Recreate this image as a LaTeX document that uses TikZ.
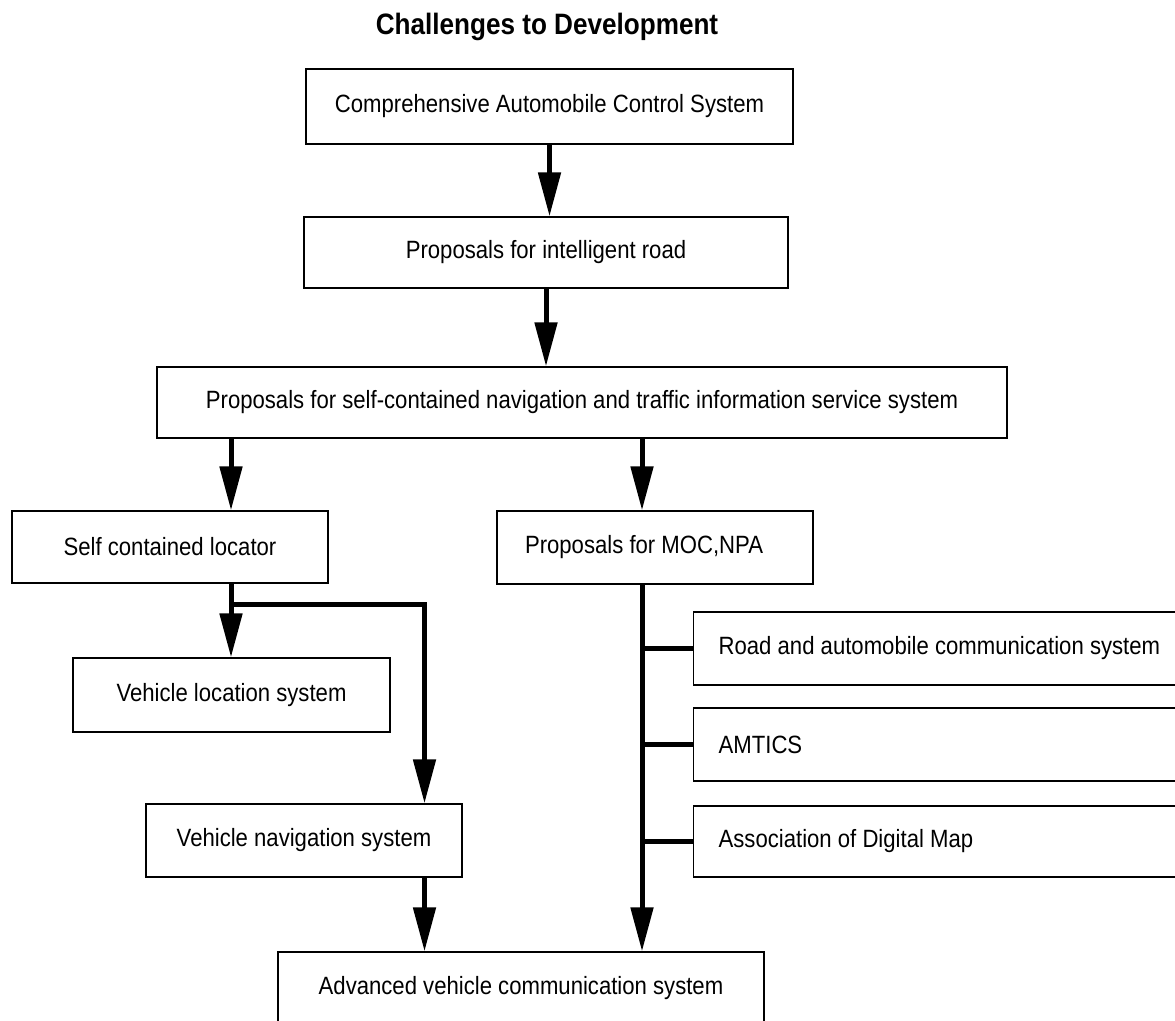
\documentclass[tikz,border=0pt]{standalone}
\usepackage{fontspec}
\setmainfont{Liberation Sans}[FakeStretch=0.885]
\usetikzlibrary{arrows.meta}
\begin{document}
\begin{tikzpicture}[x=1pt,y=-1pt,
  box/.style={draw, line width=1.3pt, inner sep=0pt, font=\fontsize{25}{30}\selectfont, align=center},
  sidebox/.style={box, anchor=west, text width=457pt, inner xsep=25pt, align=flush left},
  arr/.style={line width=5pt, -{Triangle[width=22pt,length=44pt]}},
  bar/.style={line width=5pt}]
\useasboundingbox (0,0) rectangle (1175,1020);
\clip (0,0) rectangle (1175,1020);
\node[font=\bfseries\fontsize{29.5}{34}\selectfont, anchor=base] (title) at (547,34) {Challenges to Development};
\node[box, minimum width=487pt, minimum height=75pt] (b1) at (549.5,106.5) {Comprehensive Automobile Control System};
\node[box, minimum width=484pt, minimum height=71pt] (b2) at (546,252.5) {Proposals for intelligent road};
\node[box, minimum width=850pt, minimum height=71pt] (b3) at (582,402.5) {Proposals for self-contained navigation and traffic information service system};
\node[box, minimum width=316pt, minimum height=72pt] (b4) at (170,547) {Self contained locator};
\node[box, minimum height=73pt, text width=260pt, inner xsep=28pt, align=flush left] (b5) at (655,547.5) {Proposals for MOC,NPA};
\node[box, minimum width=317pt, minimum height=74pt] (b6) at (231.5,695) {Vehicle location system};
\node[box, minimum width=316pt, minimum height=73pt] (b7) at (304,840.5) {Vehicle navigation system};
\node[box, minimum width=486pt, minimum height=72pt] (b8) at (521,988) {Advanced vehicle communication system};
\node[sidebox, minimum height=73pt] (r1) at (693,648.5) {Road and automobile communication system};
\node[sidebox, minimum height=73pt] (r2) at (693,744.5) {AMTICS};
\node[sidebox, minimum height=71pt] (r3) at (693,841.5) {Association of Digital Map};
\coordinate (lx) at (231,0);
\coordinate (tx) at (642,0);
\coordinate (mx) at (424.5,0);
\coordinate (j) at (231,604);
\draw[arr] (b1.south) -- (b1.south |- b2.north);
\draw[arr] (b2.south) -- (b2.south |- b3.north);
\draw[arr] (b3.south -| lx) -- (b4.north -| lx);
\draw[arr] (b3.south -| tx) -- (b5.north -| tx);
\draw[arr] (b4.south -| lx) -- (b6.north -| lx);
\draw[arr] (j) -| (b7.north -| mx);
\draw[arr] (b7.south -| mx) -- (b8.north -| mx);
\draw[arr] (b5.south -| tx) -- (b8.north -| tx);
\draw[bar] (r1.west -| tx) -- (r1.west);
\draw[bar] (r2.west -| tx) -- (r2.west);
\draw[bar] (r3.west -| tx) -- (r3.west);
\end{tikzpicture}
\end{document}
